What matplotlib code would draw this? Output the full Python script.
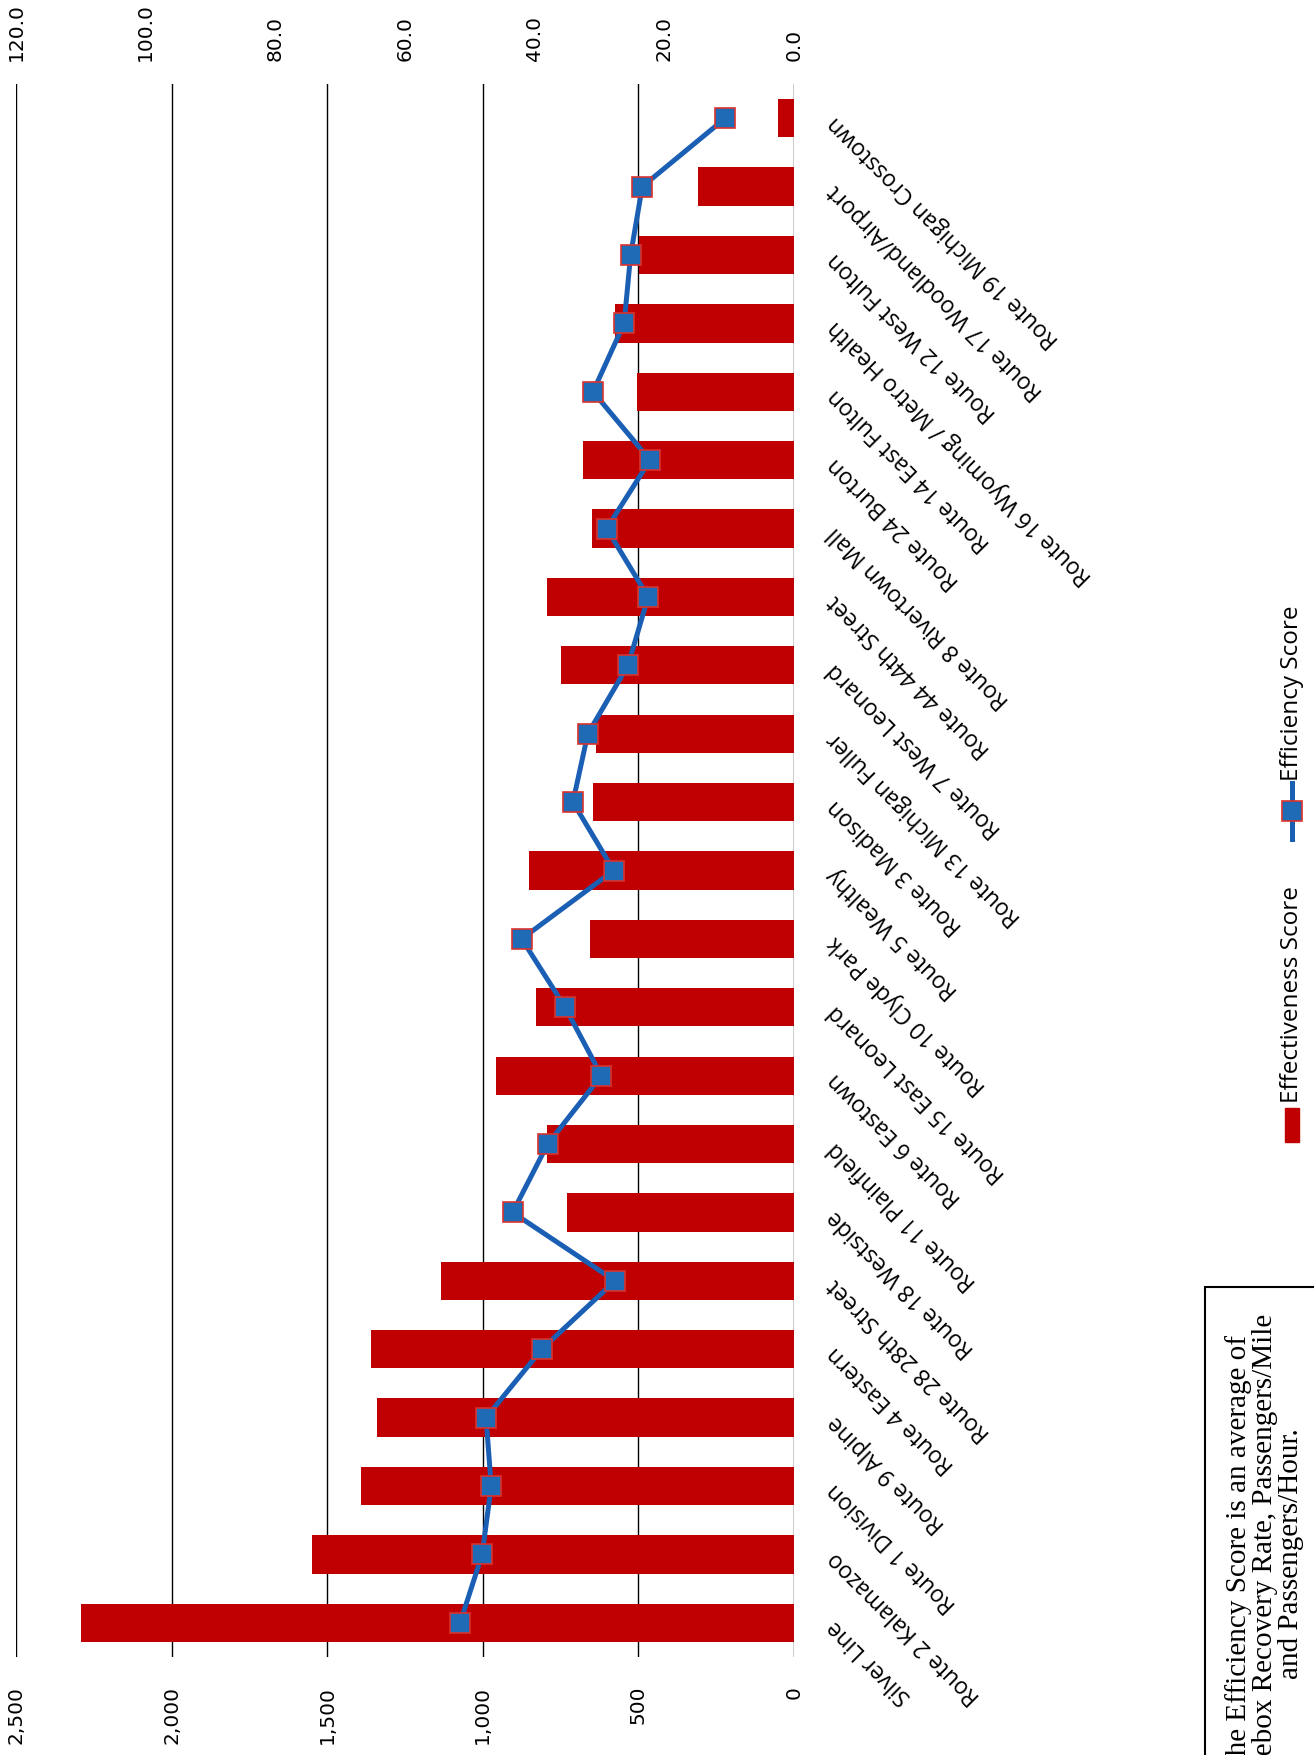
import numpy as np
import matplotlib
matplotlib.use("Agg")
import matplotlib.pyplot as plt
from matplotlib.patches import Rectangle
from matplotlib.lines import Line2D
from matplotlib.ticker import FuncFormatter

routes = ["Silver Line", "Route 2 Kalamazoo", "Route 1 Division", "Route 9 Alpine",
          "Route 4 Eastern", "Route 28 28th Street", "Route 18 Westside",
          "Route 11 Plainfield", "Route 6 Eastown", "Route 15 East Leonard",
          "Route 10 Clyde Park", "Route 5 Wealthy", "Route 3 Madison",
          "Route 13 Michigan Fuller", "Route 7 West Leonard", "Route 44 44th Street",
          "Route 8 Rivertown Mall", "Route 24 Burton", "Route 14 East Fulton",
          "Route 16 Wyoming / Metro Health", "Route 12 West Fulton",
          "Route 17 Woodland/Airport", "Route 19 Michigan Crosstown"]
effectiveness = [2290, 1548, 1390, 1340, 1360, 1133, 730, 795, 958, 828, 654, 853,
                 647, 637, 750, 794, 649, 678, 505, 576, 497, 310, 50]
efficiency = [51.5, 48.1, 46.7, 47.5, 38.9, 27.6, 43.4, 38.0, 29.7, 35.3, 42.0, 27.8,
              34.1, 31.8, 25.6, 22.5, 28.9, 22.2, 31.0, 26.2, 25.2, 23.4, 10.6]
left_ticks = [0, 500, 1000, 1500, 2000, 2500]
right_ticks = [0, 20, 40, 60, 80, 100, 120]
note = ("The Efficiency Score is an average of\n"
        "Farebox Recovery Rate, Passengers/Mile\n"
        "and Passengers/Hour.")

W, H = 1314, 1756
fig = plt.figure(figsize=(W / 100, H / 100), dpi=100)

# chart is drawn turned on its side (page rotated), so bars run right->left
ax = fig.add_axes([16 / W, 1 - 1658 / H, (794 - 16) / W, (1658 - 85) / H])
ypos = np.arange(len(routes))
ax.barh(ypos, effectiveness, height=0.56, color="#C00000", zorder=2)
ax.set_xlim(2500, 0)
ax.set_ylim(-0.5, len(routes) - 0.5)
ax.set_xticks(left_ticks)
ax.xaxis.set_major_formatter(FuncFormatter(lambda v, p: f"{v:,.0f}"))
ax.tick_params(axis="x", length=0, pad=20, labelsize=14.5, labelrotation=90)
ax.grid(axis="x", color="black", lw=1.0, zorder=0)
ax.set_axisbelow(True)
for s in ax.spines.values():
    s.set_visible(False)

ax.yaxis.tick_right()
ax.set_yticks(ypos)
ax.set_yticklabels(routes, rotation=135, rotation_mode="anchor", ha="right",
                   va="center", family="Open Sans", fontsize=16.5)
ax.tick_params(axis="y", length=0, pad=27)

ax2 = ax.twiny()
ax2.plot(efficiency, ypos, color="#1a5fb4", lw=3.6, marker="s", ms=14,
         mfc="#1f6bb5", mec="#d9332e", mew=1.2, zorder=3)
ax2.set_xlim(120, 0)
ax2.set_xticks(right_ticks)
ax2.xaxis.set_major_formatter(FuncFormatter(lambda v, p: f"{v:.1f}"))
ax2.tick_params(axis="x", length=0, pad=17, labelsize=14.5, labelrotation=90)
for s in ax2.spines.values():
    s.set_visible(False)

# legend, turned like the rest of the page
fig.add_artist(Rectangle((1285 / W, 1 - 1143 / H), 14 / W, 34 / H,
                         transform=fig.transFigure, color="#C00000"))
fig.text(1292 / W, 1 - 1103 / H, "Effectiveness Score", rotation=90, ha="center",
         va="bottom", family="Open Sans", fontsize=17.5)
fig.add_artist(Line2D([1292 / W, 1292 / W], [1 - 840 / H, 1 - 784 / H],
                      transform=fig.transFigure, color="#1a5fb4", lw=3.6))
fig.add_artist(Line2D([1292 / W], [1 - 812 / H], transform=fig.transFigure,
                      marker="s", ms=14, mfc="#1f6bb5", mec="#d9332e", mew=1.2,
                      ls="none"))
fig.text(1292 / W, 1 - 781 / H, "Efficiency Score", rotation=90, ha="center",
         va="bottom", family="Open Sans", fontsize=17.5)

# note box, cut off by the page edge
fig.add_artist(Rectangle((1205 / W, -0.1), 0.3, 0.1 + 1 - 1288 / H,
                         transform=fig.transFigure, fill=False, ec="black", lw=1.5))
fig.text(1265 / W, 1 - 1554 / H, note, rotation=90, ha="center", va="center",
         multialignment="center", family="Liberation Serif", fontsize=21,
         linespacing=1.0)

fig.savefig("out.png", dpi=100)
